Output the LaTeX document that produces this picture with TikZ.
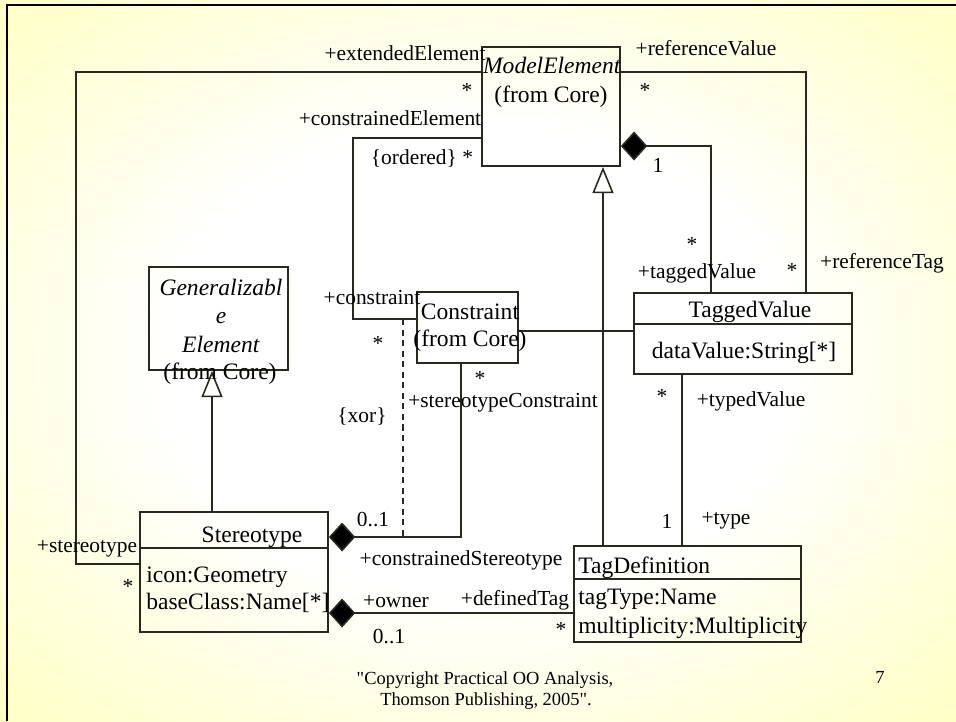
\documentclass[tikz,border=0pt]{standalone}
\usepackage{fontspec}
\setmainfont{Liberation Serif}[Ligatures=TeXOff]
\usetikzlibrary{arrows.meta}
\definecolor{slideyellow}{RGB}{255,255,153}
\definecolor{umlline}{RGB}{40,40,30}
\pgfdeclareradialshading{slideglow}{\pgfpoint{0bp}{0bp}}{color(0bp)=(white);color(16bp)=(white);color(50bp)=(slideyellow);color(75bp)=(slideyellow)}
\newcommand{\px}{0.02cm}

\begin{document}
\begin{tikzpicture}[x=\px,y=-\px,
    box/.style={draw=umlline,line width=1pt,inner sep=0pt},
    conn/.style={draw=umlline,line width=.9pt},
    comp/.style={conn,{Diamond[length=15pt,width=16.5pt,fill=black]}-},
    gen/.style={conn,-{Triangle[length=15pt,width=12pt,fill=white]}},
    cname/.style={anchor=base,inner sep=0pt,font=\fontsize{13.4}{16}\selectfont},
    lbl/.style={anchor=base,inner sep=0pt,font=\fontsize{12.2}{14}\selectfont},
    foot/.style={anchor=base,inner sep=0pt,font=\fontsize{10.5}{12}\selectfont}]
        \useasboundingbox(0,0)rectangle(956,721);
        \shade[shading=slideglow](0,0)rectangle(956,721);
        \draw[line width=1.2pt](7,721)--(7,5)--(956,5);

        \node[box,minimum width=138*\px,minimum height=119*\px](me)at(551,106.5){};
        \node[box,minimum width=101*\px,minimum height=71*\px](co)at(467.5,327.5){};
        \node[box,minimum width=218*\px,minimum height=81*\px](tv)at(743,333.5){};
        \node[box,minimum width=227*\px,minimum height=96*\px](td)at(687.5,594){};
        \node[box,minimum width=188*\px,minimum height=120*\px](st)at(234,572){};
        \node[box,minimum width=139*\px,minimum height=103*\px](ge)at(218.5,318.5){};
        \draw[conn](tv.west|-0,324)--(tv.east|-0,324);
        \draw[conn](td.west|-0,579)--(td.east|-0,579);
        \draw[conn](st.west|-0,548)--(st.east|-0,548);

        \coordinate(xorTop)at(403,319);
        \coordinate(xorEnd)at(403,537);
        \draw[conn](me.west|-0,72)-|(76,564)--(st.west|-0,564);
        \draw[conn](me.west|-0,138)-|(353,319)--(co.west|-0,319);
        \draw[conn,dash pattern=on 3.5pt off 2.5pt](xorTop)--(xorEnd);
        \draw[conn](me.east|-0,72)-|(tv.north-|806,0);
        \draw[comp](me.east|-0,146)-|(tv.north-|711,0);
        \draw[conn](co.east|-0,331)--(tv.west|-0,331);
        \draw[conn](tv.south-|682,0)--(td.north-|682,0);
        \draw[gen](td.north-|603,0)--(me.south-|603,0);
        \draw[gen](st.north-|212,0)--(ge.south-|212,0);
        \draw[comp](st.east|-0,537)-|(co.south-|461,0);
        \draw[comp](st.east|-0,613)--(td.west|-0,613);

        \node[cname](meName)at(552,73){\textit{ModelElement}};
        \node[cname](meFrom)at(551,102){(from Core)};
        \node[cname](coName)at(470,319){Constraint};
        \node[cname](coFrom)at(470,346){(from Core)};
        \node[cname](tvName)at(750,317){TaggedValue};
        \node[cname](tvAttr)at(744,358){dataValue:String[*]};
        \node[cname,anchor=base west](tdName)at(578,573){TagDefinition};
        \node[cname,anchor=base west](tdType)at(578,604){tagType:Name};
        \node[cname,anchor=base west](tdMult)at(578,633){multiplicity:Multiplicity};
        \node[cname](stName)at(252,542){Stereotype};
        \node[cname,anchor=base west](stIcon)at(146,582){icon:Geometry};
        \node[cname,anchor=base west](stBase)at(146,609){baseClass:Name[*]};
        \node[cname](geNameA)at(221,295){\textit{Generalizabl}};
        \node[cname](geNameB)at(221,323){\textit{e}};
        \node[cname](geNameC)at(221,352){\textit{Element}};
        \node[cname](geFrom)at(220,379){(from Core)};

        \node[lbl](extLbl)at(405,60){+extendedElement};
        \node[lbl](extMul)at(467,97){*};
        \node[lbl](conElLbl)at(390,125){+constrainedElement};
        \node[lbl](conElMul)at(422,164){\{ordered\} *};
        \node[lbl](conLbl)at(372,304){+constraint};
        \node[lbl](conMul)at(378,350){*};
        \node[lbl](xorLbl)at(362,422){\{xor\}};
        \node[lbl](refValLbl)at(706,55){+referenceValue};
        \node[lbl](refValMul)at(645,97){*};
        \node[lbl](ownMul)at(658,172){1};
        \node[lbl](tagValMul)at(692,251){*};
        \node[lbl](tagValLbl)at(697,278){+taggedValue};
        \node[lbl](refTagMul)at(792,277){*};
        \node[lbl](refTagLbl)at(882,268){+referenceTag};
        \node[lbl](stConMul)at(480,385){*};
        \node[lbl](stConLbl)at(503,407){+stereotypeConstraint};
        \node[lbl](typValMul)at(662,403){*};
        \node[lbl](typValLbl)at(751,406){+typedValue};
        \node[lbl](typeMul)at(667,528){1};
        \node[lbl](typeLbl)at(726,524){+type};
        \node[lbl](conStMul)at(373,526){0..1};
        \node[lbl](conStLbl)at(461,565){+constrainedStereotype};
        \node[lbl](ownerLbl)at(396,607){+owner};
        \node[lbl](ownerMul)at(389,643){0..1};
        \node[lbl](defTagLbl)at(515,605){+definedTag};
        \node[lbl](defTagMul)at(561,636){*};
        \node[lbl](stLbl)at(87,552){+stereotype};
        \node[lbl](stMul)at(128,593){*};

        \node[foot](copyA)at(485,684){"Copyright Practical OO Analysis,};
        \node[foot](copyB)at(486,705){Thomson Publishing, 2005".};
        \node[foot](pageNo)at(880,683){7};
    \end{tikzpicture}
\end{document}
